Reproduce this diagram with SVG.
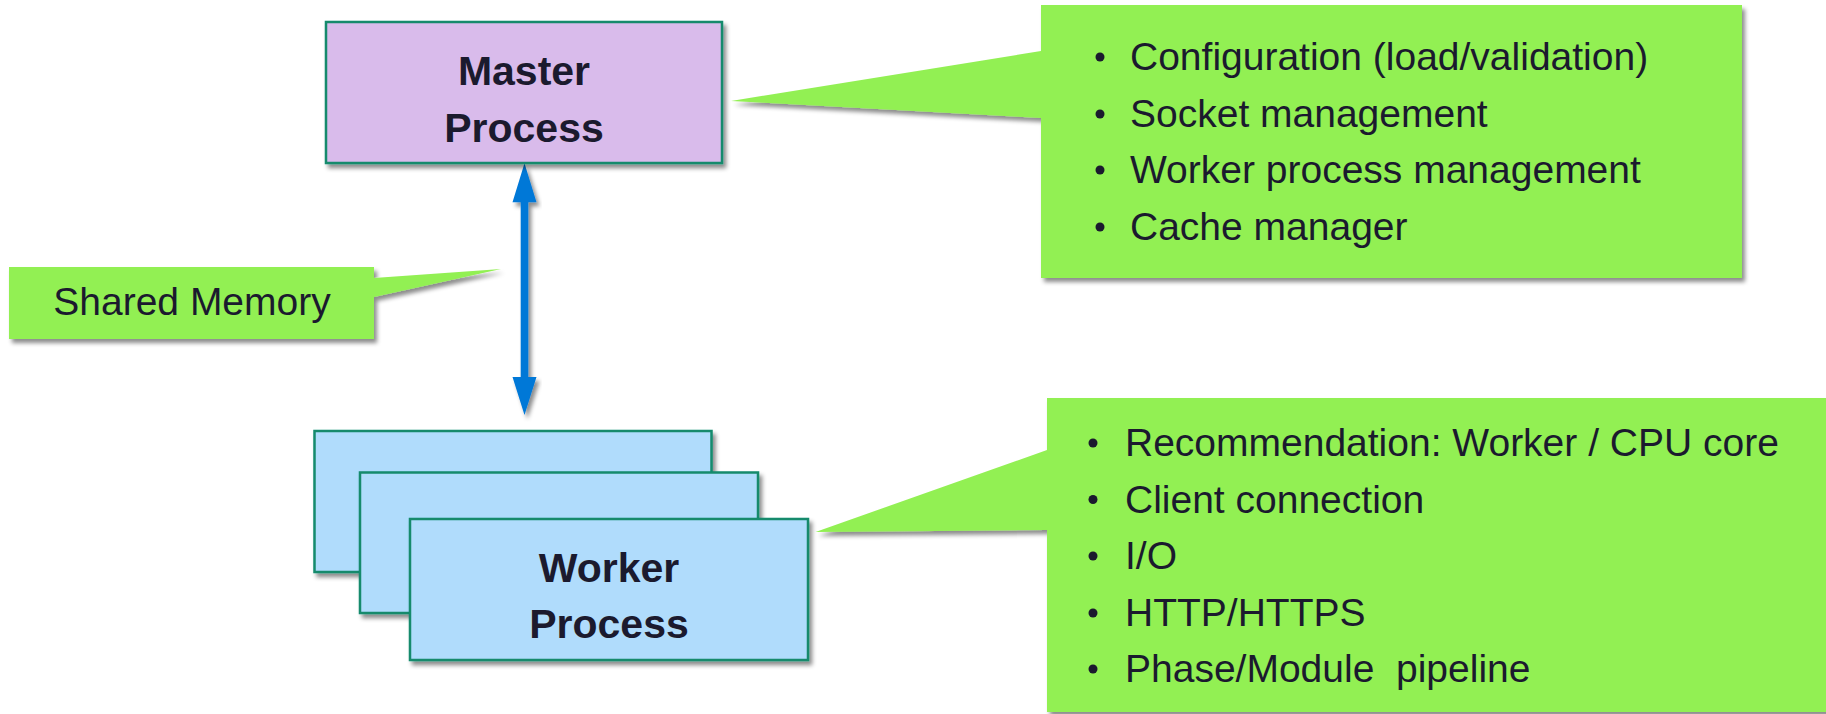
<svg xmlns="http://www.w3.org/2000/svg" width="1826" height="714" viewBox="0 0 1826 714">
  <style>
    .proc { stroke: #138A6C; stroke-width: 2.5; }
    .master { fill: #D9BBEB; }
    .worker { fill: #B0DCFC; }
    .callout { fill: #92F053; }
    .title { font-family: "Liberation Sans", Arial, sans-serif; font-weight: bold; font-size: 41px; fill: #1B1A2E; text-anchor: middle; }
    .txt { font-family: "Liberation Sans", Arial, sans-serif; font-size: 39px; fill: #1B1A2E; }
    .bullet { fill: #1B1A2E; }
  </style>
  <defs>
    <filter id="shadow" x="-10%" y="-10%" width="130%" height="130%">
      <feDropShadow dx="3" dy="4" stdDeviation="2.2" flood-color="#000" flood-opacity="0.45"/>
    </filter>
  </defs>
  <rect width="1826" height="714" fill="#FFFFFF"/>

  <g id="connectors">
    <path id="shared-memory-arrow" filter="url(#shadow)" fill="#0078D7"
      d="M524.5,163.3 L536.5,202.3 L528.3,202.3 L528.3,377 L536.5,377 L524.5,415 L512.5,377 L520.7,377 L520.7,202.3 L512.5,202.3 Z"/>
  </g>

  <g id="master-process">
    <rect class="proc master" x="326" y="22" width="396" height="141" filter="url(#shadow)"/>
    <text class="title" x="524" y="85">Master</text>
    <text class="title" x="524" y="142">Process</text>
  </g>

  <g id="worker-process">
    <rect class="proc worker" x="314.5" y="431" width="397" height="141" filter="url(#shadow)"/>
    <rect class="proc worker" x="360" y="472.5" width="398" height="140.5" filter="url(#shadow)"/>
    <rect class="proc worker" x="410" y="519" width="398" height="141" filter="url(#shadow)"/>
    <text class="title" x="609" y="582">Worker</text>
    <text class="title" x="609" y="638">Process</text>
  </g>

  <g id="shared-memory-callout">
    <path class="callout" filter="url(#shadow)" d="M9,267 H374 V278 L501,269 L374,297 V339 H9 Z"/>
    <text class="txt" x="192" y="315" text-anchor="middle">Shared Memory</text>
  </g>

  <g id="master-callout">
    <path class="callout" filter="url(#shadow)" d="M1041,5 H1742 V278 H1041 V118 L731,101 L1041,51 Z"/>
    <circle class="bullet" cx="1100" cy="57" r="4.5"/>
    <circle class="bullet" cx="1100" cy="114" r="4.5"/>
    <circle class="bullet" cx="1100" cy="170" r="4.5"/>
    <circle class="bullet" cx="1100" cy="227" r="4.5"/>
    <text class="txt" x="1130" y="70">Configuration (load/validation)</text>
    <text class="txt" x="1130" y="127">Socket management</text>
    <text class="txt" x="1130" y="183">Worker process management</text>
    <text class="txt" x="1130" y="240">Cache manager</text>
  </g>

  <g id="worker-callout">
    <path class="callout" filter="url(#shadow)" d="M1047,398 H1840 V712 H1047 V530 L815.5,532 L1047,450 Z"/>
    <circle class="bullet" cx="1093" cy="443" r="4.5"/>
    <circle class="bullet" cx="1093" cy="499.5" r="4.5"/>
    <circle class="bullet" cx="1093" cy="556" r="4.5"/>
    <circle class="bullet" cx="1093" cy="613" r="4.5"/>
    <circle class="bullet" cx="1093" cy="669" r="4.5"/>
    <text class="txt" x="1125" y="456">Recommendation: Worker / CPU core</text>
    <text class="txt" x="1125" y="513">Client connection</text>
    <text class="txt" x="1125" y="569">I/O</text>
    <text class="txt" x="1125" y="626">HTTP/HTTPS</text>
    <text class="txt" x="1125" y="682" xml:space="preserve">Phase/Module  pipeline</text>
  </g>
</svg>
